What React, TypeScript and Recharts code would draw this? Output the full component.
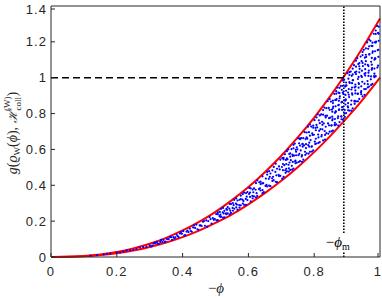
import { ComposedChart, Line, Scatter, XAxis, YAxis, ReferenceLine } from 'recharts';

// bound curves, sampled on -phi
const phiGrid = [0, 0.05, 0.1, 0.15, 0.2, 0.25, 0.3, 0.35, 0.4, 0.45, 0.5, 0.55, 0.6, 0.65, 0.7, 0.75, 0.8, 0.85, 0.9, 0.95, 1];
const lowerBound = [0, 0.0008, 0.004, 0.0105, 0.021, 0.036, 0.056, 0.081, 0.111, 0.147, 0.19, 0.238, 0.294, 0.356, 0.425, 0.501, 0.585, 0.677, 0.777, 0.884, 1.0];
const upperBound = [0, 0.001, 0.0053, 0.014, 0.028, 0.048, 0.074, 0.107, 0.148, 0.196, 0.252, 0.317, 0.39, 0.473, 0.565, 0.667, 0.778, 0.9, 1.033, 1.176, 1.33];

const xTicks = [0, 0.2, 0.4, 0.6, 0.8, 1];
const yTicks = [0, 0.2, 0.4, 0.6, 0.8, 1, 1.2, 1.4];

const phiM = 0.89;
const gLevel = 1;

// sampled (−phi, g) pairs, first batch
const samplesA: [number, number][] = [
  [0.12, 0.0072], [0.14, 0.0104], [0.16, 0.0143], [0.18, 0.019], [0.2, 0.0245], [0.22, 0.0308], [0.24, 0.0379], [0.26, 0.0459], [0.28, 0.0549], [0.3, 0.0648],
  [0.17, 0.0171], [0.21, 0.026], [0.23, 0.0367], [0.25, 0.0395], [0.27, 0.0527], [0.29, 0.0564],
  [0.308, 0.0642], [0.312, 0.0751], [0.318, 0.0756], [0.322, 0.0842], [0.328, 0.0723], [0.332, 0.0839], [0.338, 0.0838], [0.342, 0.0949],
  [0.348, 0.0858], [0.352, 0.1004], [0.358, 0.1003], [0.362, 0.1117], [0.368, 0.0951], [0.372, 0.1103], [0.378, 0.1094], [0.382, 0.124],
  [0.388, 0.1114], [0.392, 0.1304], [0.398, 0.1292], [0.402, 0.1438], [0.408, 0.1217], [0.412, 0.1411], [0.418, 0.1391], [0.422, 0.1576],
  [0.428, 0.1407], [0.432, 0.1647], [0.438, 0.1624], [0.442, 0.1808], [0.448, 0.152], [0.452, 0.1762], [0.458, 0.173], [0.462, 0.196],
  [0.468, 0.1742], [0.472, 0.2038], [0.478, 0.2001], [0.482, 0.2228], [0.488, 0.1866], [0.492, 0.2164], [0.498, 0.2114], [0.502, 0.2395],
  [0.507, 0.2053], [0.512, 0.2282], [0.513, 0.2512], [0.517, 0.2254], [0.522, 0.2494], [0.523, 0.2735], [0.527, 0.2215], [0.532, 0.2431], [0.533, 0.2682],
  [0.537, 0.2429], [0.542, 0.2693], [0.543, 0.2956], [0.547, 0.2461], [0.552, 0.2736], [0.553, 0.3011], [0.557, 0.2692], [0.562, 0.2979], [0.563, 0.3267],
  [0.567, 0.2638], [0.572, 0.2895], [0.573, 0.3194], [0.577, 0.2885], [0.582, 0.3197], [0.583, 0.351], [0.587, 0.2912], [0.592, 0.3238], [0.593, 0.3563],
  [0.597, 0.3177], [0.602, 0.3516], [0.603, 0.3855], [0.607, 0.3104], [0.612, 0.3407], [0.613, 0.3759], [0.617, 0.3385], [0.622, 0.3751], [0.623, 0.4118],
  [0.627, 0.3408], [0.632, 0.3789], [0.633, 0.417], [0.637, 0.3709], [0.642, 0.4104], [0.643, 0.45], [0.647, 0.3615], [0.652, 0.3967], [0.653, 0.4377],
  [0.657, 0.3932], [0.662, 0.4359], [0.663, 0.4785], [0.667, 0.395], [0.672, 0.4392], [0.673, 0.4834], [0.677, 0.429], [0.682, 0.4748], [0.683, 0.5205],
  [0.687, 0.4173], [0.692, 0.4579], [0.693, 0.5053], [0.697, 0.4529], [0.702, 0.502], [0.703, 0.5511],
  [0.707, 0.447], [0.712, 0.4832], [0.709, 0.5123], [0.714, 0.5413], [0.711, 0.5732],
  [0.717, 0.4771], [0.722, 0.5146], [0.719, 0.5446], [0.724, 0.5746], [0.721, 0.6001],
  [0.727, 0.4855], [0.732, 0.5088], [0.729, 0.5398], [0.734, 0.5708], [0.731, 0.6018],
  [0.737, 0.4935], [0.742, 0.5336], [0.739, 0.5656], [0.744, 0.5977], [0.741, 0.6329],
  [0.747, 0.5262], [0.752, 0.5676], [0.749, 0.6007], [0.754, 0.6338], [0.751, 0.6619],
  [0.757, 0.5347], [0.762, 0.5603], [0.759, 0.5945], [0.764, 0.6286], [0.761, 0.6628],
  [0.767, 0.5429], [0.772, 0.587], [0.769, 0.6222], [0.774, 0.6575], [0.771, 0.6963],
  [0.777, 0.5781], [0.782, 0.6235], [0.779, 0.6599], [0.784, 0.6962], [0.781, 0.7271],
  [0.787, 0.5867], [0.792, 0.6149], [0.789, 0.6523], [0.794, 0.6898], [0.791, 0.7273],
  [0.797, 0.5951], [0.802, 0.6434], [0.799, 0.682], [0.804, 0.7206], [0.801, 0.7631],
  [0.807, 0.633], [0.812, 0.6827], [0.809, 0.7225], [0.814, 0.7623], [0.811, 0.7961],
  [0.817, 0.6415], [0.822, 0.6722], [0.819, 0.7132], [0.824, 0.7542], [0.821, 0.7952],
  [0.827, 0.65], [0.832, 0.7027], [0.829, 0.7449], [0.834, 0.7871], [0.831, 0.8335],
  [0.837, 0.6906], [0.842, 0.7449], [0.839, 0.7883], [0.844, 0.8317], [0.841, 0.8686],
  [0.847, 0.6993], [0.852, 0.7329], [0.849, 0.7775], [0.854, 0.8222], [0.851, 0.8669],
  [0.857, 0.7055], [0.862, 0.7377], [0.856, 0.7698], [0.863, 0.8043], [0.858, 0.8388], [0.864, 0.8755], [0.861, 0.91],
  [0.867, 0.7395], [0.872, 0.775], [0.866, 0.8104], [0.873, 0.8458], [0.868, 0.8813], [0.874, 0.9167], [0.871, 0.9451],
  [0.877, 0.7528], [0.882, 0.7844], [0.876, 0.8232], [0.883, 0.8621], [0.878, 0.8961], [0.884, 0.9325], [0.881, 0.9543],
  [0.887, 0.7661], [0.892, 0.801], [0.886, 0.836], [0.893, 0.8734], [0.888, 0.9108], [0.894, 0.9507], [0.891, 0.9882],
  [0.897, 0.8022], [0.902, 0.8407], [0.896, 0.8791], [0.903, 0.9176], [0.898, 0.956], [0.904, 0.9944], [0.901, 1.0252],
  [0.907, 0.8159], [0.912, 0.8501], [0.906, 0.8922], [0.913, 0.9344], [0.908, 0.9712], [0.914, 1.0107], [0.911, 1.0344],
  [0.917, 0.8294], [0.922, 0.8672], [0.916, 0.9051], [0.923, 0.9456], [0.918, 0.9861], [0.924, 1.0293], [0.921, 1.0698],
  [0.927, 0.8679], [0.932, 0.9095], [0.926, 0.9511], [0.933, 0.9927], [0.928, 1.0343], [0.934, 1.0759], [0.931, 1.1091],
  [0.937, 0.8819], [0.942, 0.9189], [0.936, 0.9644], [0.943, 1.0099], [0.938, 1.0497], [0.944, 1.0924], [0.941, 1.118],
  [0.947, 0.8959], [0.952, 0.9367], [0.946, 0.9776], [0.953, 1.0213], [0.948, 1.0651], [0.954, 1.1118], [0.951, 1.1556],
  [0.957, 0.9366], [0.962, 0.9815], [0.956, 1.0264], [0.963, 1.0713], [0.958, 1.1161], [0.964, 1.161], [0.961, 1.1969],
  [0.967, 0.9511], [0.972, 0.991], [0.966, 1.04], [0.973, 1.0891], [0.968, 1.1321], [0.974, 1.1781], [0.971, 1.2057],
  [0.977, 0.9653], [0.982, 1.0093], [0.976, 1.0533], [0.983, 1.1005], [0.978, 1.1476], [0.984, 1.1979], [0.981, 1.2451],
  [0.987, 1.0084], [0.992, 1.0567], [0.986, 1.1051], [0.993, 1.1534], [0.988, 1.2017], [0.994, 1.25], [0.991, 1.2887],
];

// second batch, half-step positions
const samplesB: [number, number][] = [
  [0.305, 0.0591], [0.315, 0.0794], [0.325, 0.0749], [0.335, 0.0951], [0.345, 0.0825], [0.355, 0.0991], [0.365, 0.1105], [0.375, 0.1037],
  [0.385, 0.1165], [0.395, 0.1389], [0.405, 0.1189], [0.415, 0.1479], [0.425, 0.145], [0.435, 0.1764], [0.445, 0.1547], [0.455, 0.1768],
  [0.465, 0.2006], [0.475, 0.1693], [0.485, 0.2114], [0.495, 0.2072],
  [0.507, 0.2484], [0.503, 0.2038], [0.507, 0.2387], [0.515, 0.2359], [0.515, 0.2237], [0.517, 0.2685],
  [0.523, 0.2194], [0.527, 0.2577], [0.525, 0.2428], [0.537, 0.2786], [0.533, 0.2385], [0.535, 0.263],
  [0.543, 0.2377], [0.547, 0.2959], [0.545, 0.2586], [0.557, 0.3189], [0.553, 0.258], [0.555, 0.2896],
  [0.567, 0.3151], [0.563, 0.277], [0.565, 0.2922], [0.577, 0.3419], [0.573, 0.2756], [0.577, 0.3233],
  [0.585, 0.3121], [0.587, 0.3591], [0.583, 0.2983], [0.595, 0.3366], [0.597, 0.3625], [0.593, 0.2906],
  [0.605, 0.3593], [0.605, 0.3353], [0.607, 0.3832], [0.613, 0.327], [0.617, 0.383], [0.615, 0.3612],
  [0.625, 0.3561], [0.627, 0.4273], [0.623, 0.3334], [0.637, 0.4068], [0.635, 0.3833], [0.637, 0.4203],
  [0.643, 0.3735], [0.645, 0.4119], [0.643, 0.3561], [0.657, 0.46], [0.655, 0.402], [0.657, 0.4745],
  [0.663, 0.3981], [0.665, 0.447], [0.667, 0.4657], [0.673, 0.4243], [0.675, 0.4477], [0.677, 0.5022],
  [0.683, 0.4195], [0.687, 0.4921], [0.685, 0.4558], [0.697, 0.543], [0.693, 0.4511], [0.695, 0.4887],
  [0.707, 0.5447], [0.703, 0.4366], [0.705, 0.5188], [0.705, 0.4842], [0.707, 0.5533],
  [0.713, 0.4695], [0.717, 0.5499], [0.715, 0.5186], [0.715, 0.4918], [0.717, 0.5902],
  [0.723, 0.4762], [0.727, 0.5594], [0.725, 0.527], [0.727, 0.5779], [0.723, 0.4947],
  [0.735, 0.5637], [0.733, 0.4873], [0.737, 0.6067], [0.735, 0.5302], [0.737, 0.6258],
  [0.743, 0.523], [0.745, 0.5871], [0.747, 0.6118], [0.743, 0.5378], [0.745, 0.5674],
  [0.757, 0.6573], [0.753, 0.5299], [0.757, 0.6216], [0.755, 0.5757], [0.757, 0.6624],
  [0.763, 0.5679], [0.765, 0.6152], [0.767, 0.6625], [0.763, 0.5311], [0.765, 0.631],
  [0.775, 0.6075], [0.777, 0.6943], [0.773, 0.5695], [0.777, 0.6672], [0.775, 0.6292],
  [0.785, 0.6153], [0.787, 0.7384], [0.783, 0.5762], [0.787, 0.6769], [0.785, 0.6377],
  [0.797, 0.7209], [0.793, 0.6171], [0.795, 0.6805], [0.793, 0.5882], [0.797, 0.7324],
  [0.805, 0.6596], [0.807, 0.7784], [0.803, 0.6299], [0.805, 0.7071], [0.807, 0.7368],
  [0.813, 0.6671], [0.815, 0.7038], [0.817, 0.7895], [0.813, 0.6365], [0.817, 0.7466],
  [0.825, 0.7121], [0.827, 0.8193], [0.823, 0.6806], [0.825, 0.7373], [0.827, 0.7941],
  [0.833, 0.6552], [0.835, 0.7784], [0.835, 0.7265], [0.837, 0.8303], [0.833, 0.6811],
  [0.847, 0.821], [0.845, 0.7743], [0.845, 0.7343], [0.847, 0.8811], [0.843, 0.6875],
  [0.857, 0.8308], [0.855, 0.7827], [0.857, 0.8583], [0.853, 0.7347], [0.855, 0.8102], [0.853, 0.7003], [0.857, 0.872], [0.855, 0.7621],
  [0.867, 0.925], [0.863, 0.7485], [0.865, 0.8403], [0.867, 0.8756], [0.863, 0.7696], [0.865, 0.812], [0.867, 0.9109], [0.863, 0.7343],
  [0.877, 0.8855], [0.875, 0.8202], [0.877, 0.9435], [0.873, 0.7839], [0.875, 0.8492], [0.877, 0.9145], [0.873, 0.7331], [0.875, 0.871],
  [0.885, 0.8354], [0.887, 0.9548], [0.883, 0.7832], [0.887, 0.9175], [0.885, 0.8652], [0.885, 0.8205], [0.887, 0.9846], [0.883, 0.7683],
  [0.897, 0.9272], [0.895, 0.8736], [0.897, 0.9579], [0.893, 0.8199], [0.895, 0.9042], [0.893, 0.7816], [0.897, 0.9732], [0.895, 0.8506],
  [0.907, 1.031], [0.903, 0.8342], [0.905, 0.9365], [0.907, 0.9759], [0.903, 0.8578], [0.905, 0.9051], [0.907, 1.0152], [0.903, 0.8185],
  [0.917, 0.9858], [0.915, 0.913], [0.917, 1.0504], [0.913, 0.8726], [0.915, 0.9454], [0.917, 1.0181], [0.913, 0.8161], [0.915, 0.9696],
  [0.925, 0.9289], [0.927, 1.0616], [0.923, 0.8709], [0.927, 1.0202], [0.925, 0.9621], [0.925, 0.9123], [0.927, 1.0948], [0.923, 0.8543],
  [0.937, 1.0298], [0.935, 0.9703], [0.937, 1.0639], [0.933, 0.9107], [0.935, 1.0043], [0.933, 0.8681], [0.937, 1.0809], [0.935, 0.9447],
  [0.947, 1.1438], [0.943, 0.9255], [0.945, 1.039], [0.947, 1.0826], [0.943, 0.9517], [0.945, 1.0041], [0.947, 1.1263], [0.943, 0.908],
  [0.957, 1.0924], [0.955, 1.0118], [0.957, 1.164], [0.953, 0.967], [0.955, 1.0476], [0.957, 1.1282], [0.953, 0.9044], [0.955, 1.0745],
  [0.965, 1.0283], [0.967, 1.1752], [0.963, 0.964], [0.967, 1.1293], [0.965, 1.065], [0.965, 1.0099], [0.967, 1.2119], [0.963, 0.9456],
  [0.977, 1.1387], [0.975, 1.0729], [0.977, 1.1764], [0.973, 1.007], [0.975, 1.1105], [0.973, 0.9599], [0.977, 1.1952], [0.975, 1.0446],
  [0.987, 1.2634], [0.983, 1.0223], [0.985, 1.1476], [0.987, 1.1959], [0.983, 1.0512], [0.985, 1.1091], [0.987, 1.2441], [0.983, 1.003],
  [0.996, 1.2055], [0.995, 1.1166], [0.996, 1.2845], [0.994, 1.0671], [0.995, 1.1561], [0.996, 1.245],
];

const curveData = phiGrid.map((x, i) => ({ x, lower: lowerBound[i], upper: upperBound[i] }));
const dotData = [...samplesA, ...samplesB].map(([x, y]) => ({ x, y }));

const AXIS = '#262626';
const SANS = '"Liberation Sans", Arial, Helvetica, sans-serif';
const SERIF = '"Liberation Serif", "DejaVu Serif", "Times New Roman", serif';
const TICK_LEN = 4;

function BottomTick({ x, y, payload }: any) {
  return (
    <g>
      <line x1={x} y1={y} x2={x} y2={y - TICK_LEN} stroke={AXIS} strokeWidth={1} />
      <text x={x} y={y + 19} textAnchor="middle" fill={AXIS} fontFamily={SANS} fontSize={13} letterSpacing={1.1}>
        {String(payload.value)}
      </text>
    </g>
  );
}

function LeftTick({ x, y, payload }: any) {
  return (
    <g>
      <line x1={x} y1={y} x2={x + TICK_LEN} y2={y} stroke={AXIS} strokeWidth={1} />
      <text x={x - 4} y={y + 4.5} textAnchor="end" fill={AXIS} fontFamily={SANS} fontSize={13} letterSpacing={1.1}>
        {String(payload.value)}
      </text>
    </g>
  );
}

function TopTick({ x, y }: any) {
  return <line x1={x} y1={y} x2={x} y2={y + TICK_LEN} stroke={AXIS} strokeWidth={1} />;
}

function RightTick({ x, y }: any) {
  return <line x1={x} y1={y} x2={x - TICK_LEN} y2={y} stroke={AXIS} strokeWidth={1} />;
}

function Dot({ cx, cy }: any) {
  return <circle cx={cx} cy={cy} r={1.1} fill="#0000ff" />;
}

function YTitle() {
  const cx = 17;
  const cy = 133;
  return (
    <text
      x={cx}
      y={cy}
      transform={`rotate(-90 ${cx} ${cy})`}
      textAnchor="middle"
      fontFamily={SERIF}
      fontSize={14}
      fill={AXIS}
    >
      <tspan fontStyle="italic">g</tspan>
      <tspan>(</tspan>
      <tspan fontStyle="italic">ϱ</tspan>
      <tspan fontSize={9} dy={3}>W</tspan>
      <tspan dy={-3}>(</tspan>
      <tspan fontStyle="italic">ϕ</tspan>
      <tspan>), </tspan>
      <tspan fontStyle="italic" fontFamily='"DejaVu Serif", serif' fontSize={12}>ℋ</tspan>
      <tspan fontSize={9} dy={4}>coll</tspan>
      <tspan fontSize={9} dx={-14} dy={-11}>(W)</tspan>
      <tspan dy={7}>)</tspan>
    </text>
  );
}

function XTitle() {
  return (
    <text x={216} y={293} textAnchor="middle" fontFamily={SERIF} fontSize={15} fill={AXIS}>
      <tspan>−</tspan>
      <tspan fontStyle="italic">ϕ</tspan>
    </text>
  );
}

function PhiMLabel({ viewBox }: any) {
  const lx = viewBox.x;
  const by = viewBox.y + viewBox.height;
  return (
    <g>
      <rect x={lx - 20} y={by - 24} width={36} height={18} fill="#ffffff" />
      <text x={lx - 18} y={by - 10} fontFamily={SERIF} fontSize={15} fill="#000">
        <tspan>−</tspan>
        <tspan fontStyle="italic">ϕ</tspan>
        <tspan fontSize={10} dy={3}>m</tspan>
      </text>
    </g>
  );
}

export default function App() {
  return (
    <div style={{ position: 'absolute', left: 0, top: 0, width: 382, height: 298, background: '#fff' }}>
      <ComposedChart width={382} height={298} margin={{ top: 5, right: 1, bottom: 11, left: 11 }}>
        <XAxis
          xAxisId="b"
          dataKey="x"
          type="number"
          domain={[0, 1]}
          ticks={xTicks}
          height={30}
          tickSize={0}
          tickMargin={0}
          tickLine={false}
          axisLine={{ stroke: AXIS }}
          tick={(p: any) => <BottomTick {...p} />}
          label={{ content: () => <XTitle /> }}
        />
        <XAxis
          xAxisId="t"
          orientation="top"
          type="number"
          domain={[0, 1]}
          ticks={xTicks}
          height={1}
          tickSize={0}
          tickMargin={0}
          tickLine={false}
          axisLine={{ stroke: AXIS }}
          tick={(p: any) => <TopTick {...p} />}
        />
        <YAxis
          yAxisId="l"
          type="number"
          domain={[0, 1.4]}
          ticks={yTicks}
          width={40}
          tickSize={0}
          tickMargin={0}
          tickLine={false}
          axisLine={{ stroke: AXIS }}
          tick={(p: any) => <LeftTick {...p} />}
          label={{ content: () => <YTitle /> }}
        />
        <YAxis
          yAxisId="r"
          orientation="right"
          type="number"
          domain={[0, 1.4]}
          ticks={yTicks}
          width={1}
          tickSize={0}
          tickMargin={0}
          tickLine={false}
          axisLine={{ stroke: AXIS }}
          tick={(p: any) => <RightTick {...p} />}
        />
        <YAxis yAxisId="s" dataKey="y" type="number" domain={[0, 1.4]} hide />

        <Scatter
          xAxisId="b"
          yAxisId="s"
          data={dotData}
          shape={(p: any) => <Dot {...p} />}
          isAnimationActive={false}
        />
        <Line
          xAxisId="b"
          yAxisId="l"
          data={curveData}
          dataKey="upper"
          type="monotone"
          stroke="#ff0000"
          strokeWidth={2}
          dot={false}
          isAnimationActive={false}
        />
        <Line
          xAxisId="b"
          yAxisId="l"
          data={curveData}
          dataKey="lower"
          type="monotone"
          stroke="#ff0000"
          strokeWidth={2}
          dot={false}
          isAnimationActive={false}
        />
        <ReferenceLine
          xAxisId="b"
          yAxisId="l"
          segment={[{ x: 0, y: gLevel }, { x: phiM, y: gLevel }]}
          stroke="#000"
          strokeWidth={1.6}
          strokeDasharray="7 4"
        />
        <ReferenceLine
          xAxisId="b"
          yAxisId="l"
          x={phiM}
          stroke="#000"
          strokeWidth={1.6}
          strokeDasharray="1.5 1.5"
          label={{ content: (p: any) => <PhiMLabel {...p} /> }}
        />
      </ComposedChart>
    </div>
  );
}
